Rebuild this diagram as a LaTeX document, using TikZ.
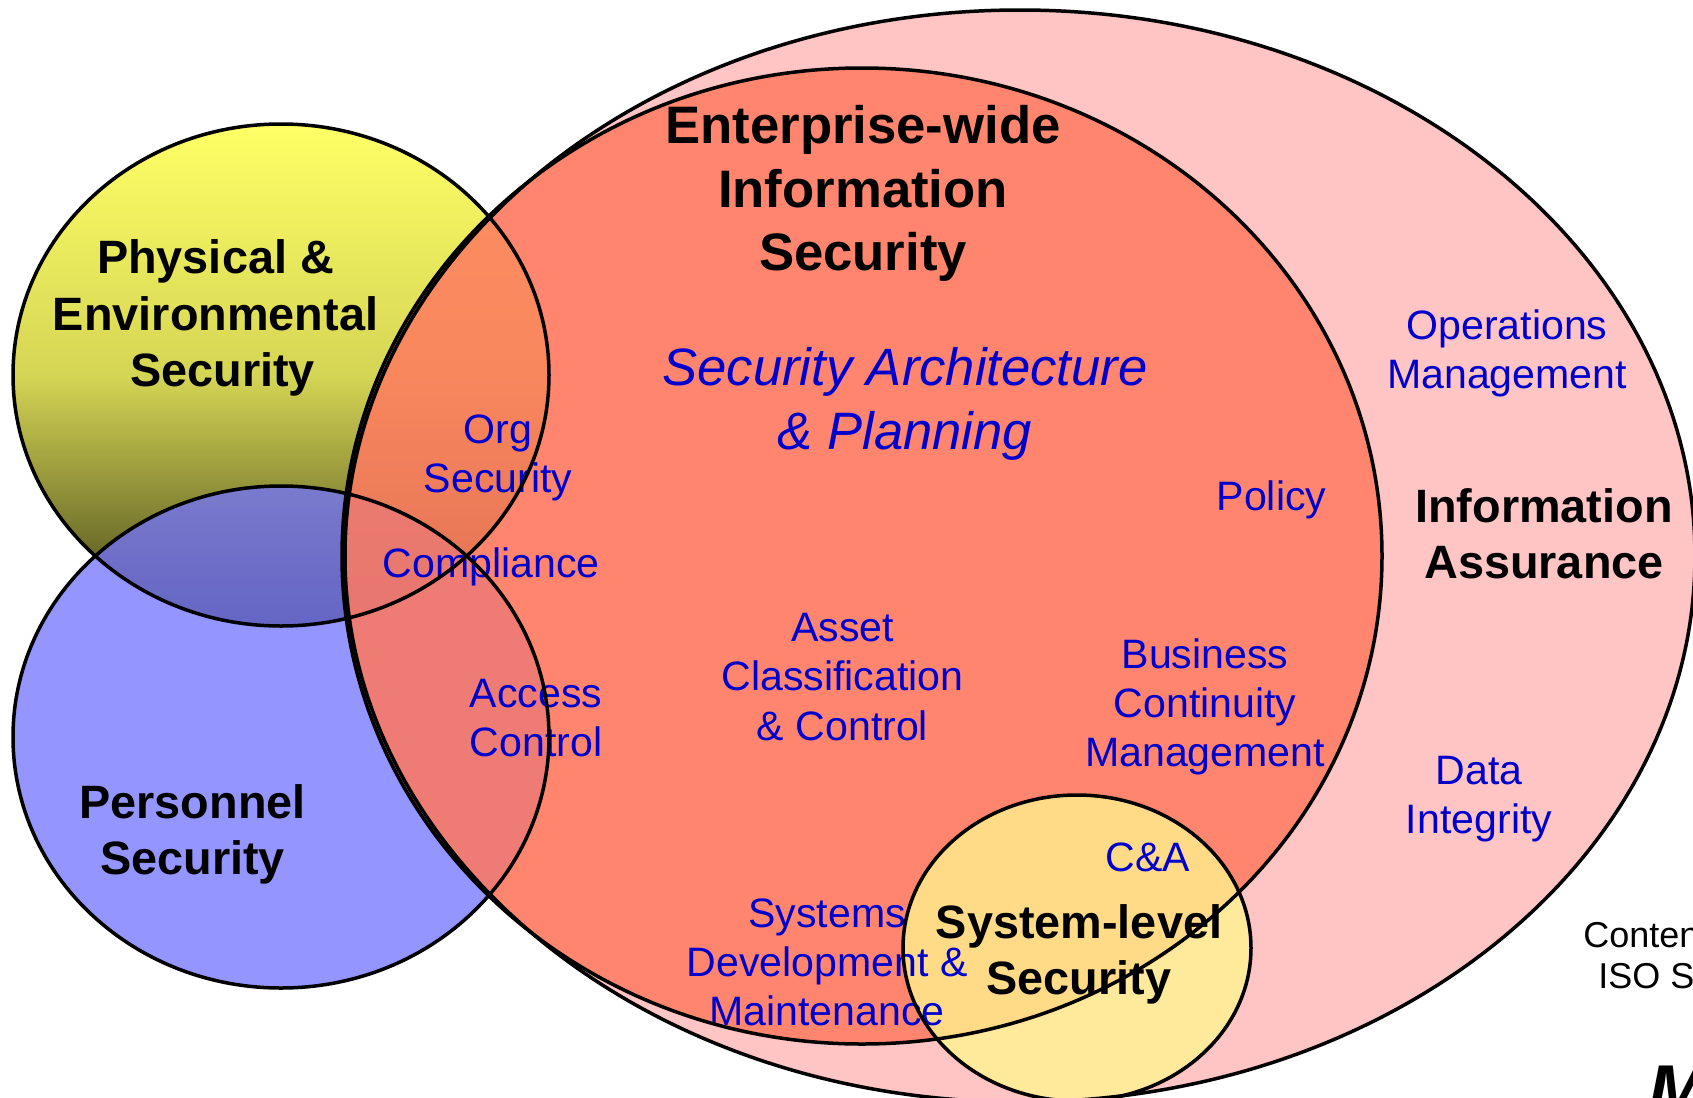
\documentclass[tikz,border=0pt]{standalone}
\usepackage{fontspec}
\setmainfont{Liberation Sans}
\definecolor{bluetxt}{HTML}{0000CC}
\definecolor{pinkfill}{HTML}{FFC4C4}
\definecolor{redfill}{HTML}{FF7A60}
\definecolor{bluefill}{HTML}{7272FF}
\definecolor{sysfill}{HTML}{FFF490}
\definecolor{yellowtop}{HTML}{FFFF66}
\definecolor{yellowmid}{HTML}{D5D555}
\definecolor{yellowbot}{HTML}{404018}
\tikzset{
  head/.style={font=\fontsize{26.35}{31.9}\selectfont\bfseries,align=center,inner sep=0pt,text=black},
  subhead/.style={font=\fontsize{23.4}{28.2}\selectfont\bfseries,align=center,inner sep=0pt,text=black},
  topic/.style={font=\fontsize{20.55}{24.6}\selectfont,align=center,inner sep=0pt,text=bluetxt},
  plan/.style={font=\fontsize{26.3}{31.9}\selectfont\itshape,align=center,inner sep=0pt,text=bluetxt},
  note/.style={font=\fontsize{18}{20}\selectfont,anchor=base west,inner sep=0pt,text=black},
  outline/.style={draw=black,line width=1.75pt}
}
\begin{document}
\begin{tikzpicture}[x=0.5pt,y=-0.5pt]
\useasboundingbox (0,0) rectangle (1693,1098);
\clip (0,0) rectangle (1693,1098);
\fill[white] (0,0) rectangle (1693,1098);
% fills
\fill[pinkfill] (1020,556) ellipse [x radius=675,y radius=546];
\shade[top color=yellowtop,bottom color=yellowbot,middle color=yellowmid] (281,375) ellipse [x radius=268,y radius=251];
\fill[bluefill,fill opacity=0.75] (281,737) ellipse [x radius=268,y radius=251];
\fill[redfill,fill opacity=0.85] (862,556) ellipse [x radius=520,y radius=488];
\fill[sysfill,fill opacity=0.78] (1077,948) ellipse [x radius=174,y radius=153];
% texts
\node[head] (ent) at (863,193.5) {Enterprise-wide\\Information\\Security};
\node[plan] (arch) at (905,404) {Security Architecture\\\& Planning};
\node[subhead] (phys) at (215.5,318) {Physical \&\\Environmental\\\hspace{7pt}Security};
\node[subhead] (pers) at (192.5,834.5) {Personnel\\Security};
\node[subhead] (ia) at (1544,533.5) {Information\\Assurance};
\node[subhead] (sys) at (1079,954.5) {System-level\\Security};
\node[topic] (org) at (498,458) {Org\\Security};
\node[topic] (comp) at (491,567) {Compliance};
\node[topic] (acc) at (536,718) {Access\\Control};
\node[topic] (asset) at (842.5,677) {Asset\\Classification\\\& Control};
\node[topic] (bcm) at (1205,707) {Business\\Continuity\\Management};
\node[topic] (pol) at (1271.5,500) {Policy};
\node[topic] (ops) at (1507,353.5) {Operations\\Management};
\node[topic] (data) at (1479,799) {Data\\Integrity};
\node[topic] (ca) at (1148,857) {C\&A};
\node[topic] (dev) at (827,962.5) {Systems\\Development \&\\Maintenance};
\node[note] (cont) at (1583,947) {Conten};
\node[note] (iso) at (1598,988) {ISO ST};
\node[font=\fontsize{36}{36}\selectfont\bfseries\itshape,anchor=base west,inner sep=0pt] (logo) at (1648,1115) {M};
% outlines
\draw[outline] (1020,556) ellipse [x radius=675,y radius=546];
\draw[outline] (281,375) ellipse [x radius=268,y radius=251];
\draw[outline] (281,737) ellipse [x radius=268,y radius=251];
\draw[outline] (862,556) ellipse [x radius=520,y radius=488];
\draw[outline] (1077,948) ellipse [x radius=174,y radius=153];
\end{tikzpicture}
\end{document}
